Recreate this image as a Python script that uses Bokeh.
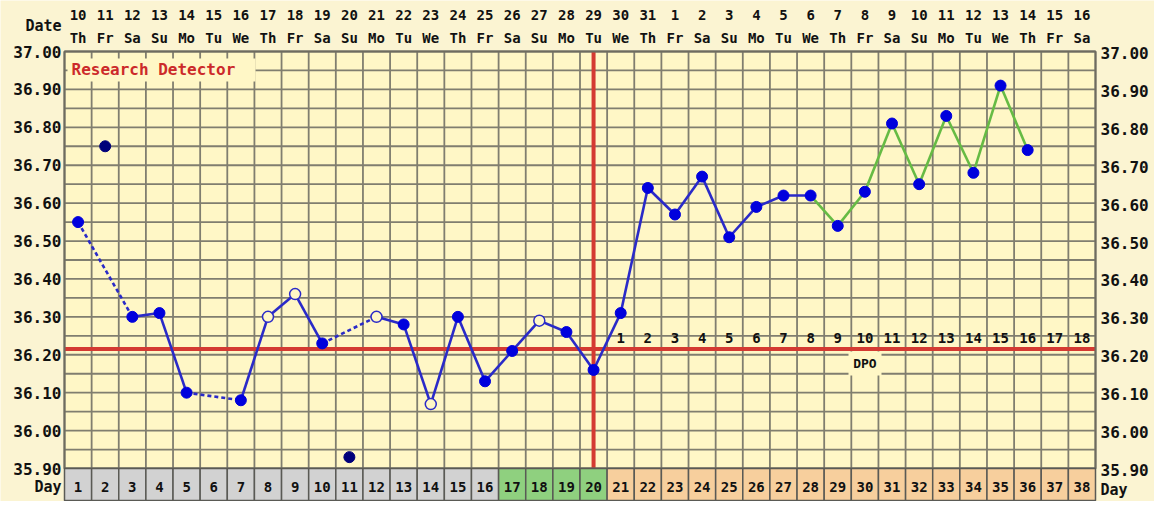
from bokeh.plotting import figure
from bokeh.models import Range1d, ColumnDataSource
from bokeh.embed import file_html
from bokeh.resources import INLINE
from bokeh.core.properties import value

# ---------------- data ----------------
days = list(range(1, 39))
dates = ["10", "11", "12", "13", "14", "15", "16", "17", "18", "19", "20", "21", "22",
         "23", "24", "25", "26", "27", "28", "29", "30", "31", "1", "2", "3", "4", "5",
         "6", "7", "8", "9", "10", "11", "12", "13", "14", "15", "16"]
weekdays = ["Th", "Fr", "Sa", "Su", "Mo", "Tu", "We"] * 5 + ["Th", "Fr", "Sa"]
temps = [36.55, 36.75, 36.30, 36.31, 36.10, None, 36.08, 36.30, 36.36, 36.23,
         35.93, 36.30, 36.28, 36.07, 36.30, 36.13, 36.21, 36.29, 36.26, 36.16,
         36.31, 36.64, 36.57, 36.67, 36.51, 36.59, 36.62, 36.62, 36.54, 36.63,
         36.81, 36.65, 36.83, 36.68, 36.91, 36.74, None, None]
# f = filled, o = open circle, d = discarded
status = ["f", "d", "f", "f", "f", "", "f", "o", "o", "f",
          "d", "o", "f", "o", "f", "f", "f", "o", "f", "f",
          "f", "f", "f", "f", "f", "f", "f", "f", "f", "f",
          "f", "f", "f", "f", "f", "f", "", ""]
phase = ["gray"] * 16 + ["green"] * 4 + ["peach"] * 18
temp_ticks = [37.00, 36.90, 36.80, 36.70, 36.60, 36.50, 36.40, 36.30, 36.20, 36.10, 36.00, 35.90]
coverline = 36.215
ovulation_day = 20
green_from_day = 28
dpo_labels = [str(i) for i in range(1, 19)]
dpo_days = list(range(21, 39))

# ---------------- geometry (screen px -> data) ----------------
W, H = 1154, 501
PX = 1031 / 38.0
PY = 417 / 1.1
X0 = 0.5 - 64 / PX
Y_TOP = 37.00 + 51 / PY


def sx(px):
    return X0 + (px - 8) / PX


def sy(py):
    return Y_TOP - (py - 8) / PY


OUTER = "#FBF4D2"
PLOT_BG = "#FFF7C6"
GRID = "#807E6F"
BLUE_LINE = "#2A2AC8"
BLUE_PT = "#0000DD"
NAVY = "#00007A"
GREEN = "#66BB44"
RED = "#D43A32"
FONT = value("DejaVu Sans Mono")

p = figure(width=W, height=H, x_range=Range1d(X0, X0 + W / PX),
           y_range=Range1d(Y_TOP - H / PY, Y_TOP), output_backend="svg",
           toolbar_location=None, min_border=0, x_axis_location=None,
           y_axis_location=None, background_fill_color=OUTER,
           border_fill_color=OUTER, outline_line_color=None)
p.grid.visible = False

tmin, tmax = temp_ticks[-1], temp_ticks[0]
n = len(days)

# plot background
p.quad(left=[0.5], right=[n + 0.5], top=[tmax], bottom=[tmin],
       fill_color=PLOT_BG, line_color=None)

# gridlines
vx = [0.5 + i for i in range(n + 1)]
p.segment(x0=vx, x1=vx, y0=[tmin] * len(vx), y1=[tmax] * len(vx),
          line_color=GRID, line_width=1.8)
nh = int(round((tmax - tmin) / 0.05))
hy = [tmin + 0.05 * k for k in range(nh + 1)]
p.segment(x0=[0.5] * len(hy), x1=[n + 0.5] * len(hy), y0=hy, y1=hy,
          line_color=GRID, line_width=1.8)

# label boxes covering grid
p.quad(left=[sx(75)], right=[sx(263)], top=[sy(66)], bottom=[sy(89)],
       fill_color=PLOT_BG, line_color=None)
p.quad(left=[sx(856)], right=[sx(889)], top=[sy(359)], bottom=[sy(383)],
       fill_color=PLOT_BG, line_color=None)

# red lines
p.segment(x0=[0.5], x1=[n + 0.5], y0=[coverline], y1=[coverline],
          line_color=RED, line_width=4)
p.segment(x0=[ovulation_day], x1=[ovulation_day], y0=[tmin], y1=[tmax],
          line_color=RED, line_width=4)

# border
p.quad(left=[0.5], right=[n + 0.5], top=[tmax], bottom=[tmin],
       fill_color=None, line_color="#6E6C60", line_width=2)

# day row
row_colors = {"gray": "#D2D2D2", "green": "#8FD07F", "peach": "#F7CF9D"}
p.quad(left=[d - 0.5 for d in days], right=[d + 0.5 for d in days],
       top=[tmin] * n, bottom=[sy(508)] * n,
       fill_color=[row_colors[ph] for ph in phase], line_color="#5A5A55",
       line_width=1.5)
p.text(x=days, y=[sy(494)] * n, text=[str(d) for d in days], text_font=FONT,
       text_font_style="bold", text_font_size="14px", text_align="center",
       text_baseline="middle", text_color="#111111")

# temperature line segments
inc = [d for d, t, s in zip(days, temps, status) if t is not None and s != "d"]
tval = {d: t for d, t in zip(days, temps)}
for a, b in zip(inc[:-1], inc[1:]):
    col = GREEN if a >= green_from_day else BLUE_LINE
    dash = "solid" if b - a == 1 else "4 3"
    p.line(x=[a, b], y=[tval[a], tval[b]], line_color=col, line_width=2.6,
           line_dash=dash)

# points
fx = [d for d, t, s in zip(days, temps, status) if s == "f"]
fy = [t for d, t, s in zip(days, temps, status) if s == "f"]
ox = [d for d, t, s in zip(days, temps, status) if s == "o"]
oy = [t for d, t, s in zip(days, temps, status) if s == "o"]
dx = [d for d, t, s in zip(days, temps, status) if s == "d"]
dy = [t for d, t, s in zip(days, temps, status) if s == "d"]
p.scatter(fx, fy, size=11, fill_color=BLUE_PT, line_color=BLUE_PT)
p.scatter(ox, oy, size=11, fill_color=PLOT_BG, line_color=BLUE_LINE, line_width=1.5)
p.scatter(dx, dy, size=11, fill_color=NAVY, line_color=NAVY)

# header dates
p.text(x=days, y=[sy(22)] * n, text=dates, text_font=FONT, text_font_style="bold",
       text_font_size="14px", text_align="center", text_baseline="middle",
       text_color="#111111")
p.text(x=days, y=[sy(45)] * n, text=weekdays, text_font=FONT, text_font_style="bold",
       text_font_size="14px", text_align="center", text_baseline="middle",
       text_color="#111111")
p.text(x=[sx(69)], y=[sy(33)], text=["Date"], text_font=FONT, text_font_style="bold",
       text_font_size="15px", text_align="right", text_baseline="middle",
       text_color="#111111")

# y tick labels
lab = ["%.2f" % t for t in temp_ticks]
p.text(x=[sx(69)] * len(temp_ticks), y=temp_ticks, text=lab, text_font=FONT,
       text_font_style="bold", text_font_size="16px", text_align="right",
       text_baseline="middle", text_color="#111111")
p.text(x=[sx(1108)] * len(temp_ticks), y=[t - 0.004 for t in temp_ticks], text=lab,
       text_font=FONT, text_font_style="bold", text_font_size="16px",
       text_align="left", text_baseline="middle", text_color="#111111")
p.text(x=[sx(69)], y=[sy(494)], text=["Day"], text_font=FONT, text_font_style="bold",
       text_font_size="15px", text_align="right", text_baseline="middle",
       text_color="#111111")
p.text(x=[sx(1108)], y=[sy(497)], text=["Day"], text_font=FONT, text_font_style="bold",
       text_font_size="15px", text_align="left", text_baseline="middle",
       text_color="#111111")

# DPO labels
p.text(x=dpo_days, y=[sy(345)] * len(dpo_days), text=dpo_labels, text_font=FONT,
       text_font_style="bold", text_font_size="14px", text_align="center",
       text_baseline="middle", text_color="#111111")
p.text(x=[30], y=[sy(371)], text=["DPO"], text_font=FONT, text_font_style="bold",
       text_font_size="13px", text_align="center", text_baseline="middle",
       text_color="#111111")

# Research Detector
p.text(x=[sx(79)], y=[sy(77)], text=["Research Detector"], text_font=FONT,
       text_font_style="bold", text_font_size="16px", text_align="left",
       text_baseline="middle", text_color="#CC2A2A")

open("out.html", "w").write(file_html(p, INLINE))
